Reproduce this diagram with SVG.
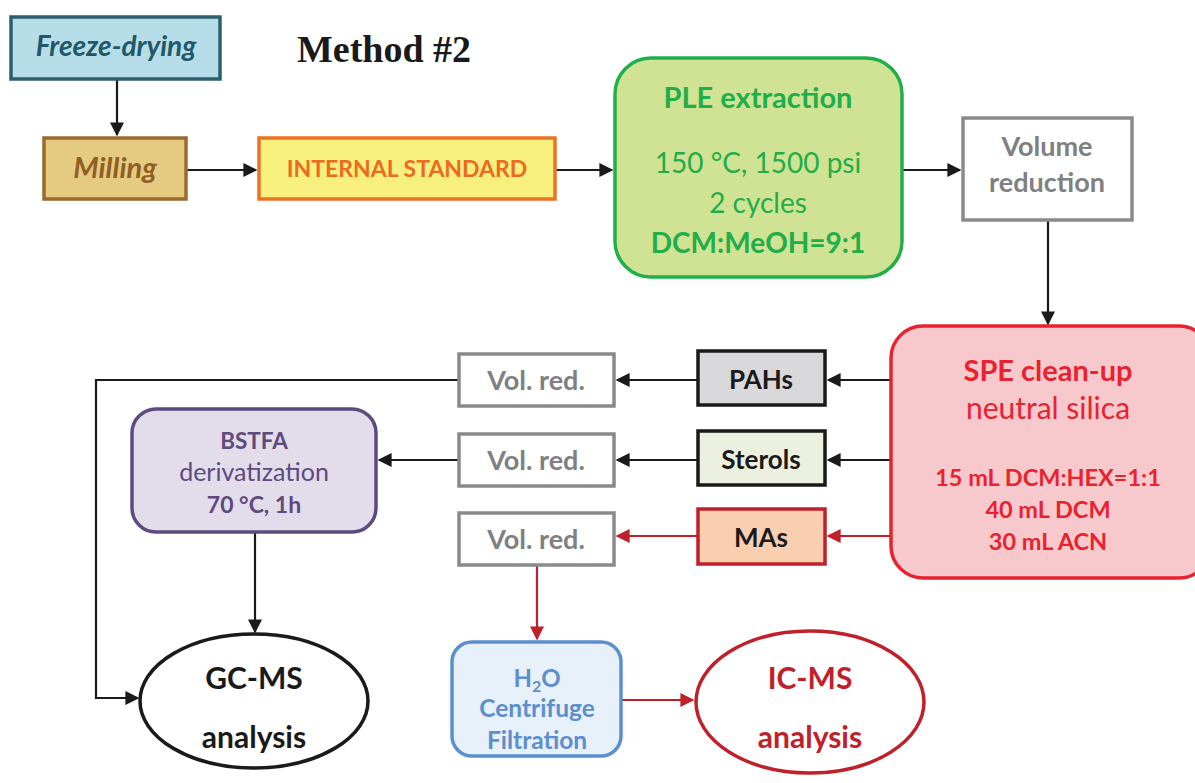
<svg xmlns="http://www.w3.org/2000/svg" width="1195" height="783" viewBox="0 0 1195 783">
<defs>
<marker id="ab" viewBox="0 0 10 10" refX="9" refY="5" markerWidth="14" markerHeight="14" markerUnits="userSpaceOnUse" orient="auto"><path d="M0,0 L10,5 L0,10 z" fill="#1a1a1a"/></marker>
<marker id="ar" viewBox="0 0 10 10" refX="9" refY="5" markerWidth="14" markerHeight="14" markerUnits="userSpaceOnUse" orient="auto"><path d="M0,0 L10,5 L0,10 z" fill="#c0202a"/></marker>
</defs>
<style>
text{font-family:Lato,"Open Sans","Liberation Sans",sans-serif;text-anchor:middle}
.b{font-weight:bold}
.k{stroke:#1a1a1a;stroke-width:2.2;fill:none}
.r{stroke:#c0202a;stroke-width:2.2;fill:none}
.vr rect{fill:#fff;stroke:#8a8a8d;stroke-width:3.5}
.vr text{fill:#808080;font-weight:bold;font-size:27px}
</style>
<rect width="1195" height="783" fill="#fff"/>
<text x="384" y="62" style="font-family:'Liberation Serif',serif;font-weight:bold;font-size:38px;fill:#1a1a1a">Method #2</text>

<g id="connectors">
<line class="k" x1="117" y1="80" x2="117" y2="135" marker-end="url(#ab)"/>
<line class="k" x1="187" y1="170" x2="256" y2="170" marker-end="url(#ab)"/>
<line class="k" x1="556" y1="170" x2="612" y2="170" marker-end="url(#ab)"/>
<line class="k" x1="903" y1="170" x2="960" y2="170" marker-end="url(#ab)"/>
<line class="k" x1="1048" y1="221" x2="1048" y2="324" marker-end="url(#ab)"/>
<line class="k" x1="890" y1="380" x2="828" y2="380" marker-end="url(#ab)"/>
<line class="k" x1="697" y1="380" x2="617" y2="380" marker-end="url(#ab)"/>
<line class="k" x1="890" y1="460" x2="828" y2="460" marker-end="url(#ab)"/>
<line class="k" x1="697" y1="460" x2="617" y2="460" marker-end="url(#ab)"/>
<line class="r" x1="890" y1="536" x2="828" y2="536" marker-end="url(#ar)"/>
<line class="r" x1="697" y1="536" x2="617" y2="536" marker-end="url(#ar)"/>
<polyline class="k" points="458,380 96,380 96,698 138,698" marker-end="url(#ab)"/>
<line class="k" x1="458" y1="460" x2="379" y2="460" marker-end="url(#ab)"/>
<line class="k" x1="255" y1="533" x2="255" y2="632" marker-end="url(#ab)"/>
<line class="r" x1="537" y1="566" x2="537" y2="639" marker-end="url(#ar)"/>
<line class="r" x1="622" y1="700" x2="693" y2="700" marker-end="url(#ar)"/>
</g>

<g id="freeze">
<rect x="11" y="17" width="209" height="62" fill="#b7dde8" stroke="#2b5f6e" stroke-width="3.5"/>
<text x="116" y="56" class="b" style="font-style:italic;font-size:28px;fill:#215868">Freeze-drying</text>
</g>
<g id="milling">
<rect x="44" y="138" width="142" height="61" fill="#e5cb80" stroke="#9b6a2f" stroke-width="3.5"/>
<text x="115" y="178" class="b" style="font-style:italic;font-size:29px;fill:#8f5f26">Milling</text>
</g>
<g id="is">
<rect x="259" y="138" width="296" height="61" fill="#f7f07f" stroke="#ec7225" stroke-width="3.5"/>
<text x="407" y="177" class="b" style="font-size:23px;fill:#ec6b1f">INTERNAL STANDARD</text>
</g>
<g id="ple">
<rect x="615" y="58" width="287" height="219" rx="36" fill="#d0e293" stroke="#1fb04b" stroke-width="3.5"/>
<g style="fill:#1fae4a">
<text x="758" y="108" class="b" style="font-size:29px">PLE extraction</text>
<text x="758" y="173" style="font-size:28px">150 °C, 1500 psi</text>
<text x="758" y="213" style="font-size:28px">2 cycles</text>
<text x="758" y="253" class="b" style="font-size:28px">DCM:MeOH=9:1</text>
</g>
</g>
<g id="volume">
<rect x="963" y="118" width="169" height="102" fill="#fff" stroke="#8a8a8d" stroke-width="3.5"/>
<text x="1047" y="156" class="b" style="font-size:27px;fill:#808080">Volume</text>
<text x="1047" y="192" class="b" style="font-size:27px;fill:#808080">reduction</text>
</g>
<g id="spe">
<rect x="891" y="326" width="320" height="252" rx="32" fill="#f8c9cc" stroke="#e8222f" stroke-width="3.5"/>
<g style="fill:#e8222f">
<text x="1048" y="381" class="b" style="font-size:29px">SPE clean-up</text>
<text x="1048" y="419" style="font-size:30px">neutral silica</text>
<text x="1048" y="486" class="b" style="font-size:23.5px">15 mL DCM:HEX=1:1</text>
<text x="1048" y="518" class="b" style="font-size:23.5px">40 mL DCM</text>
<text x="1048" y="550" class="b" style="font-size:23.5px">30 mL ACN</text>
</g>
</g>
<g id="pahs">
<rect x="698" y="351" width="127" height="54" fill="#d9d9db" stroke="#1a1a1a" stroke-width="3.5"/>
<text x="761" y="389" class="b" style="font-size:26px;fill:#1a1a1a">PAHs</text>
</g>
<g id="sterols">
<rect x="698" y="431" width="127" height="54" fill="#ebf1de" stroke="#1a1a1a" stroke-width="3.5"/>
<text x="761" y="469" class="b" style="font-size:26px;fill:#1a1a1a">Sterols</text>
</g>
<g id="mas">
<rect x="698" y="509" width="127" height="55" fill="#f9cfb0" stroke="#c0202a" stroke-width="3.5"/>
<text x="761" y="547" class="b" style="font-size:26px;fill:#1a1a1a">MAs</text>
</g>
<g id="volred1" class="vr">
<rect x="459" y="354" width="155" height="52"/>
<text x="536" y="390">Vol. red.</text>
</g>
<g id="volred2" class="vr">
<rect x="459" y="434" width="155" height="52"/>
<text x="536" y="470">Vol. red.</text>
</g>
<g id="volred3" class="vr">
<rect x="459" y="513" width="155" height="52"/>
<text x="536" y="549">Vol. red.</text>
</g>
<g id="bstfa">
<rect x="132" y="409" width="244" height="123" rx="24" fill="#e3dcea" stroke="#5d4a80" stroke-width="3.5"/>
<g style="fill:#5d4a80">
<text x="254" y="449" class="b" style="font-size:22.5px">BSTFA</text>
<text x="254" y="481" style="font-size:25px">derivatization</text>
<text x="254" y="513" class="b" style="font-size:23px">70 °C, 1h</text>
</g>
</g>
<g id="gcms">
<ellipse cx="254" cy="701" rx="114" ry="67" fill="#fff" stroke="#1a1a1a" stroke-width="3.5"/>
<text x="254" y="689" class="b" style="font-size:30px;fill:#1a1a1a">GC-MS</text>
<text x="254" y="748" class="b" style="font-size:30px;fill:#1a1a1a">analysis</text>
</g>
<g id="h2o">
<rect x="452" y="642" width="169" height="114" rx="20" fill="#e8f0f9" stroke="#5b8fcf" stroke-width="3.5"/>
<g style="fill:#5b8fcf">
<text x="537" y="687" class="b" style="font-size:24px">H<tspan dy="5" style="font-size:16px">2</tspan><tspan dy="-5">O</tspan></text>
<text x="537" y="717" class="b" style="font-size:24.5px">Centrifuge</text>
<text x="537" y="749" class="b" style="font-size:24.5px">Filtration</text>
</g>
</g>
<g id="icms">
<ellipse cx="810" cy="702" rx="114" ry="71" fill="#fff" stroke="#c0202a" stroke-width="3.5"/>
<text x="810" y="689" class="b" style="font-size:30px;fill:#c0202a">IC-MS</text>
<text x="810" y="748" class="b" style="font-size:30px;fill:#c0202a">analysis</text>
</g>
</svg>
